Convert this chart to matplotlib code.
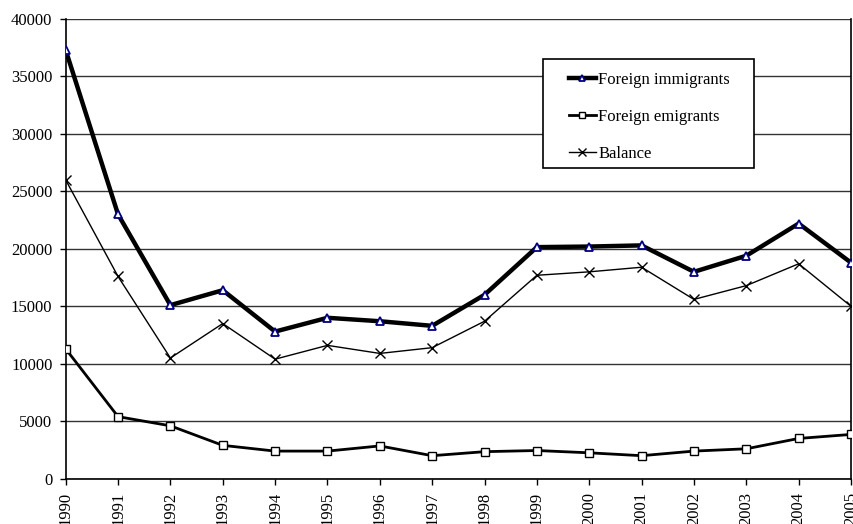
import numpy as np
import matplotlib.pyplot as plt
from matplotlib.patches import Rectangle

# values
years = list(range(1990, 2006))
immigrants = [37300, 23000, 15100, 16400, 12800, 14000, 13700, 13300,
              16000, 20150, 20200, 20300, 18000, 19400, 22200, 18800]
emigrants = [11300, 5400, 4600, 2900, 2400, 2400, 2850, 2000,
             2350, 2450, 2250, 2000, 2400, 2600, 3500, 3850]
balance = [26000, 17600, 10500, 13500, 10400, 11600, 10900, 11400,
           13700, 17700, 18000, 18400, 15600, 16800, 18700, 15000]

plt.rcParams['font.family'] = ['Liberation Serif', 'DejaVu Serif']
plt.rcParams['font.size'] = 12

fig = plt.figure(figsize=(8.54, 5.24), dpi=100)
ax = fig.add_axes([0.0769, 0.0865, 0.9196, 0.8772])

x = np.arange(len(years))
ax.plot(x, immigrants, color='black', lw=3.2, marker='^', ms=6,
        mfc='white', mec='#000080', mew=1.3, label='Foreign immigrants', zorder=4)
ax.plot(x, emigrants, color='black', lw=2, marker='s', ms=5.5,
        mfc='white', mec='black', mew=1, label='Foreign emigrants', zorder=3)
ax.plot(x, balance, color='black', lw=1, marker='x', ms=7,
        mec='black', mew=1, label='Balance', zorder=3)

ax.set_xlim(0, len(years) - 1)
ax.set_ylim(0, 40000)
ax.set_yticks(np.arange(0, 40001, 5000))
ax.set_xticks(x)
ax.set_xticklabels([str(y) for y in years], rotation=90)
ax.yaxis.grid(True, color='#333333', lw=1)
ax.set_axisbelow(True)
ax.tick_params(direction='out', length=4.5, width=1, color='black', pad=5)
ax.spines['top'].set_visible(False)
for s in ['left', 'bottom', 'right']:
    ax.spines[s].set_color('black')
    ax.spines[s].set_linewidth(1.2)

# legend box drawn as its own rectangle, legend entries placed inside
ax.add_patch(Rectangle((0.6078, 0.6752), 0.2687, 0.2371, transform=ax.transAxes,
                       facecolor='white', edgecolor='black', lw=1.2, zorder=5))
leg = ax.legend(loc='center left', bbox_to_anchor=(0.641, 0.787), borderaxespad=0,
                frameon=False, labelspacing=1.27, handlelength=1.6,
                handletextpad=0.15, borderpad=0, markerscale=0.8, fontsize=12)
leg.set_zorder(6)

plt.savefig('out.png', dpi=100)
